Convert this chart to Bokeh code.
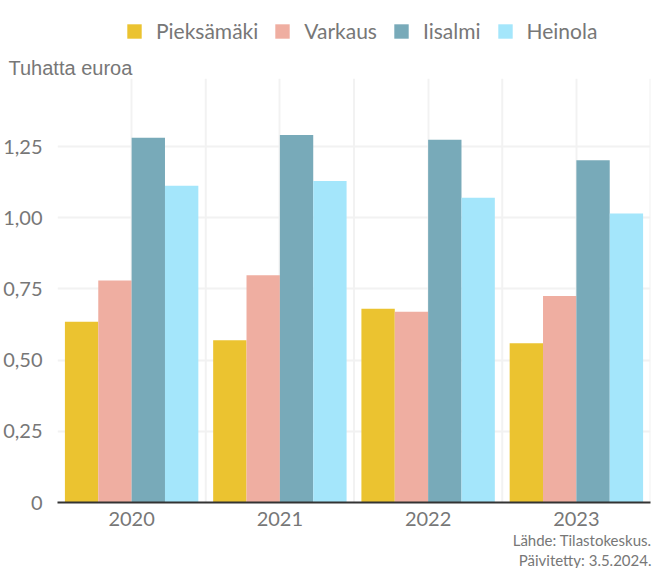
from bokeh.plotting import figure
from bokeh.layouts import column
from bokeh.models import FactorRange, Legend, LegendItem, Title, ColumnDataSource, FixedTicker
from bokeh.transform import dodge
from bokeh.embed import file_html
from bokeh.resources import INLINE

years = ["2020", "2021", "2022", "2023"]
cities = ["Pieksämäki", "Varkaus", "Iisalmi", "Heinola"]
pieksamaki = [0.635, 0.570, 0.680, 0.559]
varkaus = [0.780, 0.798, 0.670, 0.725]
iisalmi = [1.281, 1.291, 1.274, 1.202]
heinola = [1.112, 1.129, 1.070, 1.015]
colors = ["#EBC330", "#EFAEA1", "#78AAB9", "#A4E6FB"]
y_ticks = [0, 0.25, 0.5, 0.75, 1, 1.25]
y_tick_labels = ["0", "0,25", "0,50", "0,75", "1,00", "1,25"]

source = ColumnDataSource(data=dict(years=years, pieksamaki=pieksamaki, varkaus=varkaus,
                                    iisalmi=iisalmi, heinola=heinola))
keys = ["pieksamaki", "varkaus", "iisalmi", "heinola"]

Y_END = 1.489
TXT = "#777777"
W = 653
H = 568
LG_H = 52
bw = 0.225
offsets = [-1.5 * bw, -0.5 * bw, 0.5 * bw, 1.5 * bw]

# ---- legend strip (same bars, but its y range keeps them out of view) ----
lg = figure(width=W, height=LG_H, x_range=FactorRange(*years, range_padding=0),
            y_range=(10, 11), output_backend="svg", toolbar_location=None,
            x_axis_type=None, y_axis_type=None, min_border=0)
lg.outline_line_color = None
lg.grid.visible = False
lg_renderers = []
for k, off, c in zip(keys, offsets, colors):
    lg_renderers.append(lg.vbar(x=dodge("years", off, range=lg.x_range), top=k, width=bw,
                                source=source, fill_color=c, line_color=None))
legend = Legend(items=[LegendItem(label=n, renderers=[r], index=0)
                       for n, r in zip(cities, lg_renderers)],
                orientation="horizontal", location=(68, 9), margin=0, padding=0,
                spacing=15, label_standoff=13, glyph_width=18, glyph_height=18,
                label_text_font="Lato", label_text_font_size="21px", label_text_color=TXT,
                border_line_color=None, background_fill_alpha=0)
lg.add_layout(legend, "center")

# ---- main chart ----
p = figure(width=W, height=H - LG_H, x_range=FactorRange(*years, range_padding=0),
           y_range=(0, Y_END), output_backend="svg", toolbar_location=None,
           min_border_left=53, min_border_right=3, min_border_top=26, min_border_bottom=0)
p.outline_line_color = None
p.background_fill_color = "white"

grid_color = "#F2F2F2"
bsrc = ColumnDataSource(data=dict(years=years, y0=[0] * 4, y1=[Y_END] * 4))
p.segment(x0=dodge("years", 0.5, range=p.x_range), x1=dodge("years", 0.5, range=p.x_range),
          y0="y0", y1="y1", source=bsrc, line_color=grid_color, line_width=2)

for k, off, c in zip(keys, offsets, colors):
    p.vbar(x=dodge("years", off, range=p.x_range), top=k, width=bw, source=source,
           fill_color=c, line_color=None)

p.xgrid.grid_line_color = grid_color
p.xgrid.grid_line_width = 2
p.ygrid.grid_line_color = grid_color
p.ygrid.grid_line_width = 2
p.ygrid.ticker = FixedTicker(ticks=y_ticks)

p.yaxis.ticker = FixedTicker(ticks=y_ticks)
p.yaxis.major_label_overrides = dict(zip(y_ticks, y_tick_labels))
p.yaxis.axis_line_color = None
p.yaxis.major_tick_line_color = None
p.yaxis.minor_tick_line_color = None
p.yaxis.major_label_standoff = 9
p.yaxis.major_label_text_font = "Lato"
p.yaxis.major_label_text_font_size = "20px"
p.yaxis.major_label_text_color = TXT

p.xaxis.axis_line_color = "#333333"
p.xaxis.axis_line_width = 2
p.xaxis.major_tick_line_color = None
p.xaxis.minor_tick_line_color = None
p.xaxis.major_label_standoff = 3
p.xaxis.major_label_text_font = "Lato"
p.xaxis.major_label_text_font_size = "20px"
p.xaxis.major_label_text_color = TXT

p.add_layout(Title(text="Tuhatta euroa", align="left", offset=-49, standoff=0,
                   text_font="Liberation Sans", text_font_size="20px",
                   text_font_style="normal", text_color=TXT), "above")

p.add_layout(Title(text="Lähde: Tilastokeskus.", align="right", offset=-1, standoff=0,
                   text_font="Lato", text_font_size="15px", text_font_style="normal",
                   text_color=TXT), "below")
p.add_layout(Title(text="Päivitetty: 3.5.2024.", align="right", offset=-1, standoff=0,
                   text_font="Lato", text_font_size="15px", text_font_style="normal",
                   text_color=TXT), "below")

open("out.html", "w").write(file_html(column(lg, p, spacing=0), INLINE))
